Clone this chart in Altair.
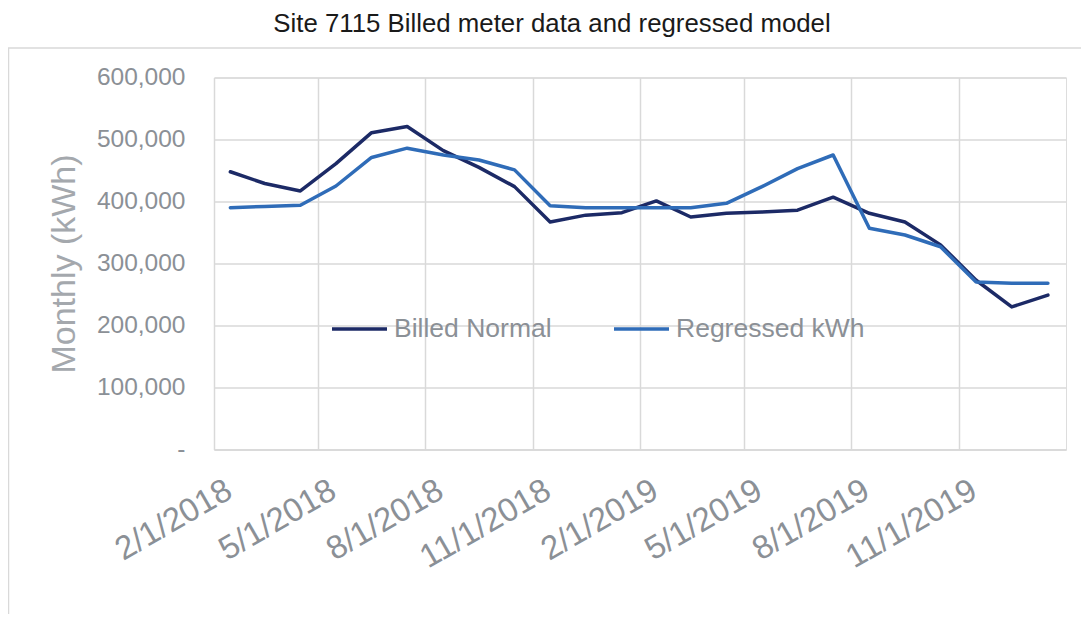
import altair as alt
import pandas as pd

months = ["2018-02-01", "2018-03-01", "2018-04-01", "2018-05-01", "2018-06-01", "2018-07-01",
          "2018-08-01", "2018-09-01", "2018-10-01", "2018-11-01", "2018-12-01", "2019-01-01",
          "2019-02-01", "2019-03-01", "2019-04-01", "2019-05-01", "2019-06-01", "2019-07-01",
          "2019-08-01", "2019-09-01", "2019-10-01", "2019-11-01", "2019-12-01", "2020-01-01"]
billed = [448000, 429000, 417000, 461000, 511000, 521000, 482000, 455000, 424000, 367000, 378000, 382000,
          401000, 375000, 381000, 383000, 386000, 407000, 381000, 367000, 330000, 273000, 230000, 249000]
regressed = [390000, 392000, 394000, 425000, 471000, 486000, 475000, 467000, 451000, 393000, 390000, 390000,
             390000, 390000, 397000, 424000, 453000, 475000, 357000, 346000, 327000, 270000, 268000, 268000]
series_names = ["Billed Normal", "Regressed kWh"]
series_colors = ["#1c2a66", "#2f6cb8"]
y_ticks = [0, 100000, 200000, 300000, 400000, 500000, 600000]
x_tick_months = [(2018, 2), (2018, 5), (2018, 8), (2018, 11), (2019, 2), (2019, 5), (2019, 8), (2019, 11)]
title_text = "Site 7115 Billed meter data and regressed model"
y_title = "Monthly (kWh)"

rows = []
for m, b, r in zip(months, billed, regressed):
    rows.append({"month": m, "series": series_names[0], "kwh": b})
    rows.append({"month": m, "series": series_names[1], "kwh": r})
df = pd.DataFrame(rows)

GRID = "#d9d9d9"
LABEL = "#8b9096"
FONT = "Liberation Sans"

x_values = [alt.DateTime(year=y, month=mo, date=1, utc=True) for y, mo in x_tick_months]

line = alt.Chart(df).mark_line(strokeWidth=3.5, strokeJoin="round", strokeCap="round").encode(
    x=alt.X(
        "utcyearmonth(month):T",
        bandPosition=0.5,
        scale=alt.Scale(domain=[alt.DateTime(year=2018, month=2, date=1, utc=True),
                                alt.DateTime(year=2020, month=2, date=1, utc=True)]),
        axis=alt.Axis(
            values=x_values,
            labelExpr="utcFormat(datum.value, '%-m/%-d/%Y')",
            labelAngle=330,
            labelAlign="right",
            labelBaseline="middle",
            labelFontSize=33,
            labelFont=FONT,
            labelColor=LABEL,
            labelPadding=38,
            labelOffset=15,
            labelOverlap=False,
            ticks=False,
            domainColor=GRID,
            domainWidth=1.5,
            gridColor=GRID,
            gridWidth=1.5,
            title=None,
        ),
    ),
    y=alt.Y(
        "kwh:Q",
        scale=alt.Scale(domain=[0, 600000]),
        axis=alt.Axis(
            values=y_ticks,
            labelExpr="datum.value == 0 ? '-' : format(datum.value, ',')",
            labelFontSize=24.5,
            labelFont=FONT,
            labelColor=LABEL,
            labelPadding=29,
            ticks=False,
            domain=False,
            gridColor=GRID,
            gridWidth=1.5,
            title=y_title,
            titleFont=FONT,
            titleFontSize=34,
            titleFontWeight="normal",
            titleColor="#a4a8ad",
            titleX=-150,
            titleY=186,
            titleAngle=270,
            titleAlign="center",
            titleBaseline="middle",
        ),
    ),
    color=alt.Color(
        "series:N",
        scale=alt.Scale(domain=series_names, range=series_colors),
        legend=alt.Legend(
            title=None,
            orient="none",
            legendX=116,
            legendY=222,
            direction="horizontal",
            symbolType="stroke",
            symbolSize=3025,
            symbolStrokeWidth=3.5,
            labelFontSize=26.5,
            labelFont=FONT,
            labelColor=LABEL,
            labelOffset=5,
            labelLimit=400,
            columnPadding=55,
            padding=0,
        ),
    ),
)

one = pd.DataFrame({"k": [0]})

border = alt.Chart(one).mark_rect(
    fillOpacity=0, stroke=GRID, strokeWidth=1.5, clip=False
).encode(
    x=alt.value(-205.5), x2=alt.value(1000), y=alt.value(-29.5), y2=alt.value(700)
)

title = alt.Chart(one).mark_text(
    text=title_text, font=FONT, fontSize=25.8, color="#1a1a1a", align="center", baseline="alphabetic"
).encode(
    x=alt.value(338), y=alt.value(-46)
)

chart = alt.layer(border, title, line).properties(
    width=852,
    height=372,
    autosize=alt.AutoSizeParams(type="none"),
    padding={"left": 206, "top": 69.5, "right": 15, "bottom": 164},
).configure_view(stroke=GRID, strokeWidth=1.5).configure(background="white")

chart.save("out.html", embed_options={"renderer": "svg", "actions": False})
